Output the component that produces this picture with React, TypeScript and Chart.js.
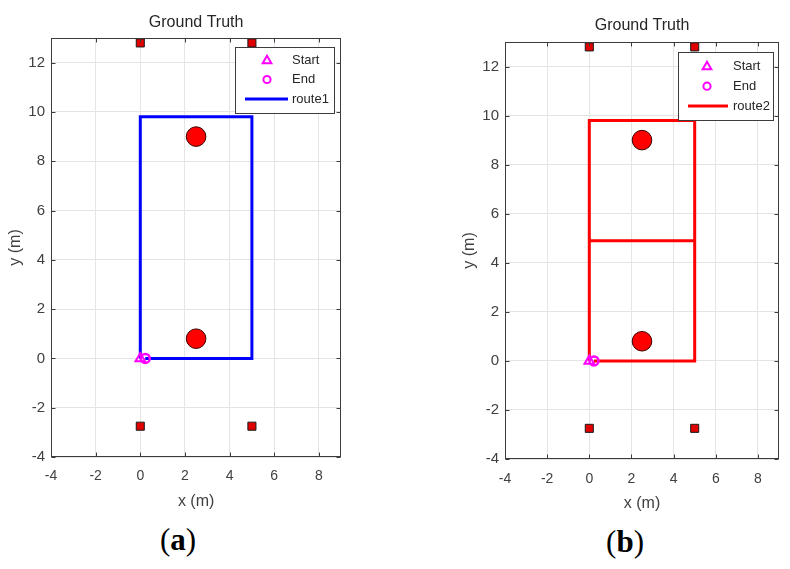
import React, { useEffect, useRef } from 'react';
import { Chart, registerables } from 'chart.js';

Chart.register(...registerables);

// ---- data ----
const xTicks = [-4, -2, 0, 2, 4, 6, 8];
const yTicks = [-4, -2, 0, 2, 4, 6, 8, 10, 12];
const xLimits = [-4, 9];
const yLimits = [-4, 13];

const anchorX = [0, 5, 0, 5];
const anchorY = [12.8, 12.8, -2.75, -2.75];
const obstacleX = [2.5, 2.5];
const obstacleY = [9.0, 0.8];
const startX = [0];
const startY = [0];
const endX = [0.22];
const endY = [0];
const route1X = [0, 0, 5, 5, 0.22];
const route1Y = [0, 9.8, 9.8, 0, 0];
const route2X = [0, 0, 5, 5, 0, 5, 5, 0.22];
const route2Y = [0, 9.8, 9.8, 4.9, 4.9, 4.9, 0, 0];

const titleText = 'Ground Truth';
const xLabel = 'x (m)';
const yLabel = 'y (m)';
const startName = 'Start';
const endName = 'End';
const routeNames = ['route1', 'route2'];
const panelTags = ['a', 'b'];

const toPoints = (xs: number[], ys: number[]) => xs.map((x, i) => ({ x, y: ys[i] }));

const SANS = '"Liberation Sans", Arial, sans-serif';
const MAGENTA = '#ff00ff';

type Panel = {
  routeX: number[];
  routeY: number[];
  routeName: string;
  routeColor: string;
  canvasLeft: number;
  width: number;
  height: number;
  area: { left: number; top: number; right: number; bottom: number };
  titleY: number;
  xTitleY: number;
  yTitleX: number;
  xTickPad: number;
  legend: { x: number; y: number; w: number; h: number; markerX: number; lineX0: number; lineX1: number; textX: number; rows: number[] };
  tagX: number;
  tagY: number;
  tag: string;
};

// legend x/y are page coordinates
const panels: Panel[] = [
  {
    routeX: route1X, routeY: route1Y, routeName: routeNames[0], routeColor: '#0000ff',
    canvasLeft: 0, width: 352, height: 520,
    area: { left: 51, top: 38, right: 342, bottom: 457 },
    titleY: 22.5, xTitleY: 501.7, yTitleX: 16, xTickPad: 11,
    legend: { x: 235, y: 47, w: 99, h: 66, markerX: 32, lineX0: 10, lineX1: 53, textX: 57, rows: [13.7, 32.5, 52] },
    tagX: 178, tagY: 540, tag: panelTags[0],
  },
  {
    routeX: route2X, routeY: route2Y, routeName: routeNames[1], routeColor: '#ff0000',
    canvasLeft: 420, width: 370, height: 520,
    area: { left: 85, top: 42, right: 359, bottom: 459 },
    titleY: 25.5, xTitleY: 503.3, yTitleX: 50, xTickPad: 12,
    legend: { x: 678, y: 52, w: 95, h: 68, markerX: 29, lineX0: 10, lineX1: 50, textX: 55, rows: [14.7, 34.2, 54] },
    tagX: 625, tagY: 542, tag: panelTags[1],
  },
];

function drawTriangle(ctx: CanvasRenderingContext2D, x: number, y: number, r: number) {
  ctx.beginPath();
  ctx.moveTo(x, y - r);
  ctx.lineTo(x + r * Math.sin((2 * Math.PI) / 3), y - r * Math.cos((2 * Math.PI) / 3));
  ctx.lineTo(x + r * Math.sin((4 * Math.PI) / 3), y - r * Math.cos((4 * Math.PI) / 3));
  ctx.closePath();
  ctx.stroke();
}

function PanelChart({ p }: { p: Panel }) {
  const ref = useRef<HTMLCanvasElement | null>(null);
  useEffect(() => {
    if (!ref.current) return;
    const xTickFont = { family: SANS, size: 14 };
    const yTickFont = { family: SANS, size: 15 };
    const labelSize = 16;
    const labelFont = { family: SANS, size: labelSize };
    const titleFontSize = 16;
    const titleLH = titleFontSize * 1.2;
    const titlePadTop = p.titleY - titleLH / 2;
    const titlePadBottom = p.area.top - titleLH - titlePadTop;
    const axisLH = labelSize * 1.2;

    const overlay = {
      id: 'matlabOverlay',
      afterDraw(chart: any) {
        const ctx: CanvasRenderingContext2D = chart.ctx;
        const a = chart.chartArea;
        const xs = chart.scales.x;
        const ys = chart.scales.y;
        ctx.save();
        // axes box
        ctx.strokeStyle = '#3c3c3c';
        ctx.lineWidth = 1;
        const L = Math.round(a.left) + 0.5;
        const T = Math.round(a.top) + 0.5;
        const R = Math.round(a.right) - 0.5;
        const B = Math.round(a.bottom) - 0.5;
        ctx.strokeRect(L, T, R - L, B - T);
        // inward ticks
        const tl = 4;
        ctx.beginPath();
        xTicks.forEach((v) => {
          const px = Math.round(xs.getPixelForValue(v)) + 0.5;
          ctx.moveTo(px, B);
          ctx.lineTo(px, B - tl);
          ctx.moveTo(px, T);
          ctx.lineTo(px, T + tl);
        });
        yTicks.forEach((v) => {
          const py = Math.round(ys.getPixelForValue(v)) + 0.5;
          ctx.moveTo(L, py);
          ctx.lineTo(L + tl, py);
          ctx.moveTo(R, py);
          ctx.lineTo(R - tl, py);
        });
        ctx.stroke();

        // legend
        const lg = p.legend;
        const lx = lg.x - p.canvasLeft;
        const ly = lg.y;
        ctx.fillStyle = '#ffffff';
        ctx.fillRect(lx, ly, lg.w, lg.h);
        ctx.strokeStyle = '#3c3c3c';
        ctx.lineWidth = 1;
        ctx.strokeRect(Math.round(lx) + 0.5, Math.round(ly) + 0.5, lg.w, lg.h);
        ctx.font = `13px ${SANS}`;
        ctx.fillStyle = '#262626';
        ctx.textBaseline = 'middle';
        ctx.textAlign = 'left';
        // Start
        ctx.strokeStyle = MAGENTA;
        ctx.lineWidth = 2;
        drawTriangle(ctx, lx + lg.markerX, ly + lg.rows[0], 5);
        ctx.fillText(startName, lx + lg.textX, ly + lg.rows[0]);
        // End
        ctx.beginPath();
        ctx.arc(lx + lg.markerX, ly + lg.rows[1], 3.6, 0, Math.PI * 2);
        ctx.stroke();
        ctx.fillText(endName, lx + lg.textX, ly + lg.rows[1]);
        // route
        ctx.strokeStyle = p.routeColor;
        ctx.lineWidth = 3;
        ctx.beginPath();
        ctx.moveTo(lx + lg.lineX0, ly + lg.rows[2]);
        ctx.lineTo(lx + lg.lineX1, ly + lg.rows[2]);
        ctx.stroke();
        ctx.fillText(p.routeName, lx + lg.textX, ly + lg.rows[2]);
        ctx.restore();
      },
    };

    const chart = new Chart(ref.current, {
      type: 'scatter',
      data: {
        datasets: [
          {
            label: startName,
            data: toPoints(startX, startY),
            pointStyle: 'triangle',
            pointRadius: 5.5,
            borderColor: MAGENTA,
            backgroundColor: 'rgba(0,0,0,0)',
            borderWidth: 2,
          },
          {
            label: endName,
            data: toPoints(endX, endY),
            pointStyle: 'circle',
            pointRadius: 4.5,
            borderColor: MAGENTA,
            backgroundColor: 'rgba(0,0,0,0)',
            borderWidth: 2.5,
          },
          {
            label: p.routeName,
            data: toPoints(p.routeX, p.routeY),
            showLine: true,
            pointRadius: 0,
            borderColor: p.routeColor,
            backgroundColor: p.routeColor,
            borderWidth: 3,
            borderJoinStyle: 'miter',
          } as any,
          {
            label: 'obstacles',
            data: toPoints(obstacleX, obstacleY),
            pointStyle: 'circle',
            pointRadius: 9.8,
            backgroundColor: '#ff0000',
            borderColor: '#3a0000',
            borderWidth: 1,
          },
          {
            label: 'anchors',
            data: toPoints(anchorX, anchorY),
            pointStyle: 'rect',
            pointRadius: 5.7,
            backgroundColor: '#e00000',
            borderColor: '#1a1a1a',
            borderWidth: 1,
          },
        ],
      },
      options: {
        animation: false,
        responsive: false,
        maintainAspectRatio: false,
        layout: { padding: { left: 0, top: 0, right: p.width - p.area.right, bottom: 0 } },
        plugins: {
          legend: { display: false },
          tooltip: { enabled: false },
          title: {
            display: true,
            text: titleText,
            fullSize: false,
            color: '#262626',
            font: { family: SANS, size: titleFontSize, weight: 'normal' },
            padding: { top: titlePadTop, bottom: titlePadBottom },
          },
        },
        scales: {
          x: {
            type: 'linear',
            min: xLimits[0],
            max: xLimits[1],
            afterBuildTicks: (s: any) => {
              s.ticks = xTicks.map((v) => ({ value: v }));
            },
            afterFit: (s: any) => {
              s.height = p.height - p.area.bottom;
            },
            grid: { color: '#e4e4e4', lineWidth: 1, drawTicks: false },
            border: { display: false },
            ticks: { padding: p.xTickPad, color: '#404040', font: xTickFont },
            title: {
              display: true,
              text: xLabel,
              color: '#404040',
              font: labelFont,
              padding: { top: 0, bottom: p.height - p.xTitleY - axisLH / 2 },
            },
          },
          y: {
            type: 'linear',
            min: yLimits[0],
            max: yLimits[1],
            afterBuildTicks: (s: any) => {
              s.ticks = yTicks.map((v) => ({ value: v }));
            },
            afterFit: (s: any) => {
              s.width = p.area.left;
            },
            grid: { color: '#e4e4e4', lineWidth: 1, drawTicks: false },
            border: { display: false },
            ticks: { padding: 6, color: '#404040', font: yTickFont },
            title: {
              display: true,
              text: yLabel,
              color: '#404040',
              font: labelFont,
              padding: { top: p.yTitleX - axisLH / 2, bottom: 0 },
            },
          },
        },
      } as any,
      plugins: [overlay],
    });
    return () => chart.destroy();
  }, [p]);

  return (
    <canvas
      ref={ref}
      width={p.width}
      height={p.height}
      style={{ position: 'absolute', left: p.canvasLeft, top: 0, width: p.width, height: p.height }}
    />
  );
}

export default function App() {
  return (
    <div style={{ position: 'absolute', left: 0, top: 0, width: 790, height: 569, background: '#ffffff', overflow: 'hidden' }}>
      {panels.map((p, i) => (
        <React.Fragment key={i}>
          <PanelChart p={p} />
          <div
            style={{
              position: 'absolute',
              left: p.tagX - 50,
              top: p.tagY - 18,
              width: 100,
              height: 36,
              lineHeight: '36px',
              textAlign: 'center',
              fontFamily: '"Liberation Serif", "Times New Roman", serif',
              fontSize: 31,
              color: '#000',
            }}
          >
            (<b>{p.tag}</b>)
          </div>
        </React.Fragment>
      ))}
    </div>
  );
}
